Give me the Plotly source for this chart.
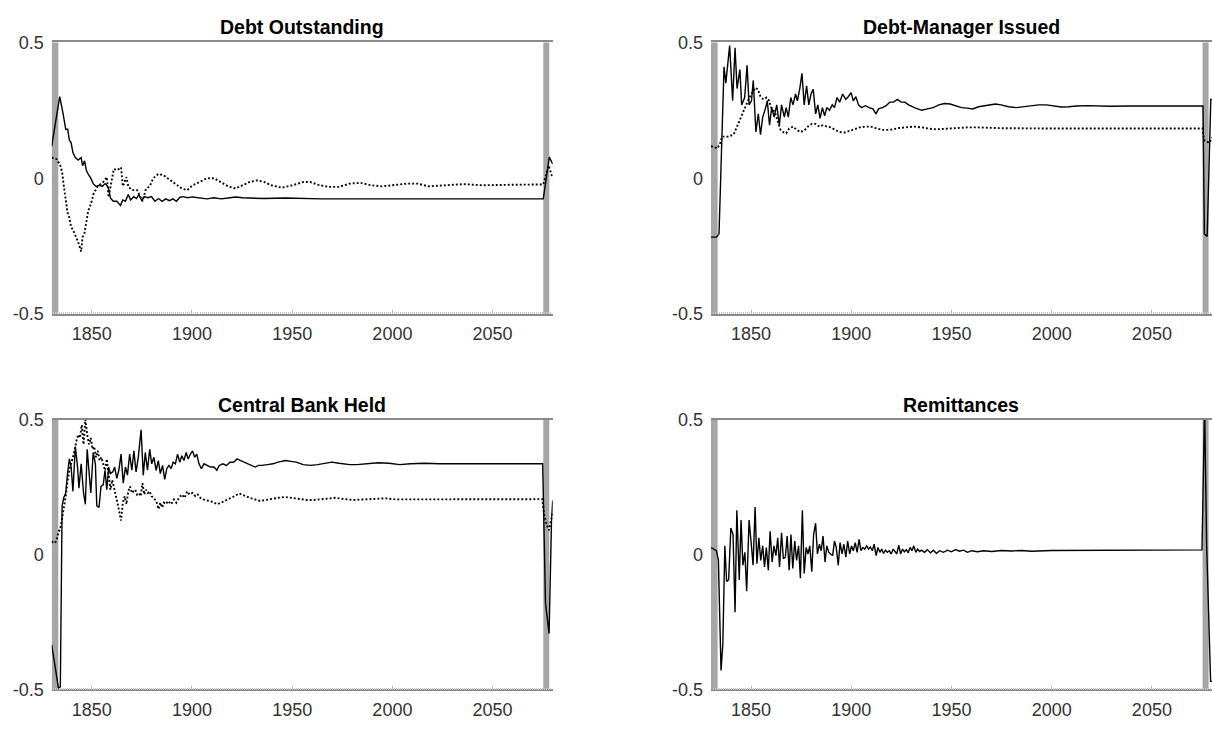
import plotly.graph_objects as go

# ---------------- data ----------------
TITLES = ["Debt Outstanding", "Debt-Manager Issued", "Central Bank Held", "Remittances"]
X_TICKS = [1850, 1900, 1950, 2000, 2050]
Y_TICKS = [-0.5, 0, 0.5]
Y_TICK_TEXT = ["-0.5", "0", "0.5"]
SHADE_SPANS = [(1830.0, 1833.3), (2075.3, 2078.3)]

# Debt Outstanding
do_solid_x = [1830, 1834, 1835.7, 1837, 1838, 1838.8, 1839.7, 1840.6, 1841.8, 1843.2,
              1844.7, 1845.4, 1846.4, 1847.3, 1848.6, 1849.5, 1850.7, 1852, 1854, 1855.3,
              1856.6, 1857.5, 1858.4, 1859.3, 1860.7, 1862.5, 1864.3, 1865.5, 1866.8, 1868.2,
              1869.4, 1870.9, 1872.3, 1873.5, 1875, 1876.2, 1878, 1879.8, 1881.5, 1883.3,
              1885.1, 1886.9, 1888.7, 1890.5, 1892.2, 1894, 1895.8, 1897.6, 1900.3, 1903.8,
              1907.4, 1911, 1914.5, 1918, 1921.7, 1925.2, 1928.8, 1936, 1946.6, 1964.4,
              1982.3, 2000, 2035.7, 2075.3, 2078.3, 2080]
do_solid_y = [0.118, 0.30, 0.237, 0.18, 0.18, 0.14, 0.13, 0.094, 0.076, 0.067,
              0.076, 0.046, 0.064, 0.028, 0.01, 0.0, -0.02, -0.03, -0.026, -0.03,
              -0.02, -0.026, -0.038, -0.073, -0.085, -0.085, -0.10, -0.08, -0.085, -0.06,
              -0.08, -0.068, -0.075, -0.06, -0.083, -0.068, -0.072, -0.068, -0.085, -0.075,
              -0.085, -0.076, -0.083, -0.076, -0.085, -0.07, -0.068, -0.072, -0.069, -0.073,
              -0.076, -0.072, -0.076, -0.073, -0.069, -0.072, -0.073, -0.075, -0.073, -0.076,
              -0.076, -0.076, -0.076, -0.076, 0.078, 0.052]
do_dot_x = [1830, 1832.5, 1834.3, 1835.2, 1836, 1837, 1837.9, 1838.8, 1839.7, 1840.6,
            1841.4, 1842.3, 1843.2, 1844.7, 1845.4, 1846.3, 1847.1, 1848.2, 1849.5, 1851,
            1853, 1855.7, 1857.5, 1858.4, 1861, 1862.8, 1864.6, 1865.5, 1867.3, 1868.2,
            1870, 1872.6, 1875.3, 1877, 1878.9, 1880.7, 1883.3, 1886, 1887.8, 1891.4,
            1894.9, 1897.6, 1900.3, 1903.8, 1907.4, 1911, 1914.5, 1918, 1921.7, 1925,
            1928.8, 1932.4, 1936, 1939.5, 1944.8, 1950.2, 1955.5, 1959, 1962.7, 1968,
            1973.4, 1978.7, 1984, 1989.4, 1994.7, 2000, 2007.2, 2012.6, 2017.9, 2026.8,
            2035.7, 2044.6, 2053.5, 2062.5, 2075.3, 2078, 2080]
do_dot_y = [0.076, 0.07, 0.046, 0.022, -0.026, -0.073, -0.127, -0.145, -0.18, -0.19,
            -0.205, -0.217, -0.235, -0.27, -0.217, -0.205, -0.17, -0.12, -0.097, -0.055,
            -0.03, -0.014, 0.004, -0.07, 0.034, 0.03, 0.04, -0.03, 0.004, -0.03,
            -0.044, -0.044, -0.085, -0.04, -0.03, 0.0, 0.016, 0.01, 0.0, -0.02,
            -0.038, -0.044, -0.026, -0.014, 0.0, 0.0, -0.014, -0.03, -0.038, -0.026,
            -0.014, -0.008, -0.014, -0.026, -0.035, -0.026, -0.014, -0.014, -0.024, -0.032,
            -0.032, -0.02, -0.017, -0.026, -0.03, -0.026, -0.02, -0.02, -0.03, -0.026,
            -0.022, -0.026, -0.026, -0.024, -0.023, 0.046, 0.0]

# Debt-Manager Issued
dm_solid_x = [1830, 1832.7, 1834, 1836.5, 1837.4, 1839.3, 1840.8, 1842, 1843, 1844.4,
              1845.3, 1846.8, 1848, 1849, 1850.2, 1851.1, 1852.4, 1853.6, 1854.7, 1855.8,
              1857.1, 1858.1, 1859.2, 1860.3, 1861.5, 1862.8, 1864.1, 1865.2, 1866.6, 1867.5,
              1868.6, 1869.8, 1870.9, 1872.2, 1873.1, 1874.3, 1875.4, 1876.5, 1877.7, 1878.8,
              1879.9, 1881, 1882.2, 1883.3, 1884.4, 1885.6, 1886.7, 1887.8, 1889.1, 1890.5,
              1891.6, 1892.9, 1894.2, 1895.7, 1897.2, 1898.5, 1899.9, 1901, 1902.3, 1903.6,
              1905.1, 1907, 1908.9, 1910.8, 1912.3, 1913.6, 1915.5, 1917.4, 1919.2, 1921.1,
              1923, 1924.9, 1926.8, 1928.6, 1931.5, 1933.3, 1935.2, 1938, 1940.9, 1943.7,
              1946.5, 1949.3, 1952.2, 1955, 1957.8, 1960.6, 1963.5, 1966.3, 1969.1, 1971.9,
              1974.7, 1978.5, 1982.3, 1986, 1989.8, 1993.6, 1997.3, 2001.1, 2004.8, 2008.6,
              2012.4, 2018, 2023.7, 2029.3, 2038.7, 2048.1, 2057.5, 2066.9, 2075.5, 2076.2,
              2077.6, 2079.4, 2080]
dm_solid_y = [-0.217, -0.217, -0.205, 0.41, 0.35, 0.488, 0.285, 0.48, 0.33, 0.40,
              0.27, 0.297, 0.416, 0.27, 0.285, 0.36, 0.17, 0.237, 0.16, 0.225,
              0.255, 0.285, 0.195, 0.26, 0.225, 0.27, 0.195, 0.27, 0.225, 0.26,
              0.225, 0.297, 0.27, 0.31, 0.285, 0.33, 0.386, 0.27, 0.34, 0.27,
              0.31, 0.327, 0.237, 0.27, 0.22, 0.26, 0.23, 0.26, 0.25, 0.27,
              0.26, 0.297, 0.28, 0.31, 0.29, 0.30, 0.315, 0.285, 0.30, 0.27,
              0.26, 0.267, 0.26, 0.255, 0.237, 0.255, 0.26, 0.267, 0.28, 0.28,
              0.29, 0.28, 0.28, 0.27, 0.26, 0.255, 0.25, 0.255, 0.26, 0.27,
              0.275, 0.273, 0.267, 0.26, 0.258, 0.255, 0.263, 0.267, 0.27, 0.273,
              0.27, 0.263, 0.26, 0.263, 0.267, 0.27, 0.27, 0.265, 0.262, 0.263,
              0.266, 0.267, 0.265, 0.265, 0.266, 0.266, 0.266, 0.266, 0.266, -0.205,
              -0.215, 0.29, 0.29]
dm_dot_x = [1830, 1833.3, 1834.6, 1835.5, 1838.3, 1841.2, 1843, 1844.9, 1846.8, 1848.7,
            1850.6, 1852.1, 1853.4, 1854.7, 1856.2, 1857.7, 1859, 1860, 1861.9, 1863.4,
            1864.7, 1866, 1867.5, 1869, 1870.9, 1872.8, 1874.6, 1876.5, 1878.4, 1880.3,
            1882.2, 1884.1, 1885.9, 1887.8, 1889.7, 1892, 1894.2, 1896.7, 1899.1, 1901.4,
            1904.2, 1907, 1909.8, 1912.7, 1915.5, 1918.3, 1921.1, 1923.9, 1927.7, 1931.5,
            1935.2, 1938.9, 1942.8, 1946.5, 1950.3, 1954, 1957.8, 1963.5, 1975, 2000,
            2040, 2075.3, 2076, 2077.4, 2078.7, 2080]
dm_dot_y = [0.118, 0.11, 0.13, 0.153, 0.153, 0.16, 0.19, 0.225, 0.26, 0.29,
            0.315, 0.333, 0.327, 0.30, 0.29, 0.297, 0.285, 0.26, 0.243, 0.207,
            0.178, 0.17, 0.165, 0.183, 0.19, 0.178, 0.17, 0.175, 0.19, 0.20,
            0.20, 0.19, 0.195, 0.19, 0.187, 0.178, 0.17, 0.168, 0.175, 0.18,
            0.187, 0.19, 0.19, 0.183, 0.178, 0.178, 0.18, 0.185, 0.188, 0.19,
            0.187, 0.182, 0.18, 0.182, 0.185, 0.186, 0.187, 0.187, 0.184, 0.183,
            0.183, 0.183, 0.14, 0.135, 0.13, 0.15]

# Central Bank Held
cb_solid_x = [1830, 1833.4, 1834.3, 1835.2, 1836, 1837, 1837.9, 1838.8, 1839.7, 1840.6,
              1841.8, 1842.9, 1843.6, 1844.7, 1845.9, 1846.8, 1847.7, 1848.6, 1849.5, 1850.7,
              1851.8, 1852.5, 1853.6, 1854.6, 1855.7, 1856.6, 1857.5, 1858.4, 1859.3, 1860.5,
              1861.4, 1862.5, 1863.5, 1864.6, 1865.7, 1866.8, 1867.8, 1868.9, 1870, 1871,
              1872.1, 1873.2, 1874.6, 1875.7, 1876.7, 1877.8, 1878.9, 1879.9, 1881, 1882.1,
              1883.2, 1884.2, 1885.3, 1886.4, 1887.4, 1888.5, 1889.6, 1890.6, 1891.7, 1892.8,
              1893.9, 1894.9, 1896, 1897.1, 1898.1, 1899.2, 1900.3, 1901.3, 1902.4, 1903.5,
              1904.7, 1906, 1907.4, 1909.2, 1911, 1912.4, 1913.6, 1915.4, 1917.2, 1919,
              1920.8, 1922.5, 1924.3, 1926.1, 1927.9, 1929.7, 1931.5, 1933.2, 1935, 1937.7,
              1940.4, 1943, 1946.6, 1949.3, 1952, 1955.5, 1959.1, 1962.7, 1966.2, 1969.8,
              1973.4, 1978.7, 1982.3, 1987.6, 1993, 1998.3, 2003.7, 2009, 2016.1, 2023.3,
              2034, 2044.7, 2057.1, 2075, 2076.4, 2078.2, 2079.4, 2080]
cb_solid_y = [-0.335, -0.496, -0.49, 0.18, 0.21, 0.228, 0.30, 0.354, 0.324, 0.234,
              0.40, 0.324, 0.246, 0.336, 0.228, 0.186, 0.39, 0.30, 0.228, 0.378,
              0.336, 0.18, 0.174, 0.252, 0.258, 0.312, 0.24, 0.324, 0.30, 0.306,
              0.324, 0.282, 0.312, 0.372, 0.264, 0.324, 0.294, 0.372, 0.312, 0.384,
              0.306, 0.36, 0.462, 0.294, 0.378, 0.312, 0.39, 0.336, 0.36, 0.312,
              0.348, 0.30, 0.33, 0.278, 0.318, 0.33, 0.318, 0.342, 0.336, 0.372,
              0.342, 0.366, 0.348, 0.378, 0.354, 0.372, 0.384, 0.36, 0.372, 0.336,
              0.318, 0.336, 0.33, 0.324, 0.324, 0.312, 0.33, 0.336, 0.33, 0.342,
              0.342, 0.354, 0.348, 0.342, 0.338, 0.33, 0.324, 0.33, 0.33, 0.333,
              0.336, 0.342, 0.348, 0.345, 0.342, 0.333, 0.33, 0.333, 0.338, 0.342,
              0.338, 0.333, 0.333, 0.336, 0.34, 0.338, 0.333, 0.336, 0.338, 0.336,
              0.335, 0.336, 0.336, 0.336, -0.18, -0.293, 0.12, 0.2]
cb_dot_x = [1830, 1831.6, 1832.5, 1833.4, 1834.3, 1835.2, 1836, 1837, 1837.9, 1838.8,
            1839.7, 1840.6, 1841.4, 1842.3, 1843.2, 1844.1, 1845, 1845.9, 1846.8, 1847.7,
            1848.6, 1849.5, 1850.4, 1851.2, 1852.1, 1853, 1853.9, 1854.8, 1855.7, 1856.6,
            1857.5, 1858.4, 1859.3, 1860.2, 1861.4, 1862.8, 1864.6, 1865.5, 1866.4, 1867.3,
            1868.2, 1869.1, 1870, 1870.9, 1871.7, 1872.6, 1873.5, 1874.4, 1875.3, 1876.2,
            1877.1, 1878, 1878.9, 1879.8, 1881, 1882.4, 1883.3, 1884.2, 1885.1, 1886,
            1886.9, 1888.1, 1889.6, 1891, 1892.2, 1893.5, 1894.9, 1896.3, 1897.6, 1898.8,
            1900.3, 1901.7, 1902.9, 1904.2, 1905.6, 1907.4, 1909.2, 1911, 1912.7, 1914.5,
            1916.3, 1918.1, 1919.9, 1921.7, 1923.4, 1925.2, 1927, 1928.8, 1931.5, 1934.1,
            1936.8, 1939.5, 1943, 1946.6, 1950.2, 1953.7, 1957.3, 1960.9, 1964.4, 1968,
            1971.6, 1975.1, 1980.5, 1985.8, 1991.2, 1996.5, 2001.9, 2009, 2017.9, 2028.6,
            2041.1, 2057.1, 2074.8, 2075.8, 2077.1, 2078.2, 2079.4, 2080]
cb_dot_y = [0.048, 0.042, 0.054, 0.084, 0.096, 0.132, 0.168, 0.216, 0.27, 0.312,
            0.336, 0.36, 0.384, 0.42, 0.444, 0.432, 0.48, 0.408, 0.5, 0.444,
            0.408, 0.432, 0.39, 0.40, 0.36, 0.384, 0.348, 0.36, 0.336, 0.312,
            0.354, 0.30, 0.24, 0.276, 0.24, 0.192, 0.126, 0.192, 0.216, 0.186,
            0.234, 0.252, 0.228, 0.234, 0.24, 0.222, 0.228, 0.216, 0.264, 0.222,
            0.24, 0.228, 0.234, 0.216, 0.21, 0.192, 0.168, 0.192, 0.174, 0.192,
            0.186, 0.198, 0.186, 0.204, 0.192, 0.21, 0.222, 0.21, 0.234, 0.222,
            0.228, 0.216, 0.222, 0.21, 0.204, 0.2, 0.198, 0.192, 0.186, 0.192,
            0.198, 0.204, 0.21, 0.218, 0.226, 0.222, 0.216, 0.21, 0.204, 0.198,
            0.202, 0.206, 0.21, 0.213, 0.21, 0.206, 0.202, 0.202, 0.204, 0.206,
            0.21, 0.206, 0.202, 0.204, 0.206, 0.208, 0.204, 0.204, 0.206, 0.205,
            0.205, 0.205, 0.205, 0.144, 0.108, 0.09, 0.144, 0.156]

# Remittances
rem_x = [1830, 1831.2, 1832.7, 1833.7, 1835, 1835.9, 1836.9, 1837.8, 1838.8, 1839.9,
         1841, 1842, 1842.9, 1844.1, 1845, 1845.9, 1846.9, 1847.8, 1849, 1850.1,
         1851, 1852, 1852.9, 1853.9, 1854.8, 1855.8, 1856.7, 1857.6, 1858.6, 1859.5,
         1860.5, 1861.4, 1862.4, 1863.3, 1864.2, 1865.2, 1866.1, 1867.1, 1868, 1869,
         1869.9, 1870.8, 1871.8, 1872.7, 1873.7, 1874.6, 1875.6, 1876.5, 1877.5, 1878.4,
         1879.3, 1880.3, 1881.2, 1882.2, 1883.1, 1884.1, 1885, 1885.9, 1886.9, 1887.8,
         1888.8, 1889.7, 1890.7, 1891.6, 1892.5, 1893.5, 1894.4, 1895.4, 1896.3, 1897.3,
         1898.2, 1899.2, 1900.1, 1901, 1902, 1902.9, 1903.9, 1904.8, 1905.8, 1906.7,
         1907.7, 1908.6, 1909.5, 1910.5, 1911.4, 1912.4, 1913.3, 1914.3, 1915.2, 1916.1,
         1917.1, 1918, 1919, 1919.9, 1920.9, 1921.8, 1922.7, 1923.7, 1924.6, 1925.6,
         1926.5, 1927.5, 1928.4, 1929.3, 1930.3, 1931.2, 1932.2, 1933.1, 1934.1, 1935,
         1936.5, 1938, 1939.5, 1941, 1942.5, 1944, 1946, 1948, 1950, 1952,
         1954, 1956, 1958, 1960, 1963, 1966, 1970, 1975, 1980, 1985,
         1990, 2000, 2020, 2050, 2075, 2076.3, 2077.3, 2079.3, 2080]
rem_y = [0.026, 0.02, 0.014, -0.022, -0.43, -0.334, 0.032, -0.10, -0.094, 0.098,
         0.074, -0.214, 0.164, -0.094, 0.128, -0.04, 0.008, -0.136, 0.128, 0.038,
         -0.04, 0.176, -0.034, 0.062, -0.022, 0.032, -0.046, 0.026, -0.058, 0.086,
         -0.028, 0.032, -0.004, 0.062, -0.046, 0.08, -0.016, -0.01, 0.068, -0.058,
         0.074, -0.052, 0.05, -0.022, 0.032, -0.088, 0.164, -0.07, 0.026, 0.002,
         0.032, -0.064, 0.074, 0.116, 0.002, 0.038, 0.014, 0.068, -0.028, 0.032,
         0.008, 0.002, -0.004, 0.05, 0.026, -0.04, 0.044, 0.002, 0.038, -0.01,
         0.05, 0.002, 0.032, 0.014, 0.044, 0.008, 0.056, 0.014, 0.026, 0.02,
         0.032, 0.02, 0.028, 0.014, 0.038, -0.004, 0.026, 0.008, 0.02, 0.004,
         0.016, 0.008, 0.014, 0.002, 0.02, 0.011, 0.002, 0.035, 0.002, 0.02,
         0.01, 0.018, 0.006, 0.026, 0.014, 0.032, 0.008, 0.02, 0.011, 0.016,
         0.008, 0.018, 0.006, 0.016, 0.004, 0.014, 0.008, 0.016, 0.01, 0.018,
         0.012, 0.016, 0.008, 0.014, 0.01, 0.014, 0.011, 0.015, 0.013, 0.015,
         0.012, 0.015, 0.015, 0.016, 0.017, 0.55, 0.041, -0.47, -0.47]

PANELS = [
    [(do_solid_x, do_solid_y, "solid"), (do_dot_x, do_dot_y, "dot")],
    [(dm_solid_x, dm_solid_y, "solid"), (dm_dot_x, dm_dot_y, "dot")],
    [(cb_solid_x, cb_solid_y, "solid"), (cb_dot_x, cb_dot_y, "dot")],
    [(rem_x, rem_y, "solid")],
]

# ---------------- layout geometry ----------------
W, H = 1212, 734
COL_X = [(51.7 / W, 552.7 / W), (711.0 / W, 1.0)]
ROW_Y = [(1 - 312.5 / H, 1 - 33.3 / H), (1 - 698.5 / H, 1 - 421.0 / H)]

FONT = "Liberation Sans, Arial, Helvetica, sans-serif"
AXIS_GRAY = "#8a8a8a"
TICK_GRAY = "#b5b5b5"
LABEL_COLOR = "#333333"
SHADE = "#a6a6a6"

LINE_STYLES = {
    "solid": dict(color="black", width=1.4),
    "dot": dict(color="black", width=1.9, dash="1.9px,2.1px"),
}

fig = go.Figure()
annotations = []
shapes = []

for i, series in enumerate(PANELS):
    r, c = divmod(i, 2)
    n = "" if i == 0 else str(i + 1)
    xa, ya = "x" + n, "y" + n
    for xs, ys, style in series:
        fig.add_trace(go.Scatter(
            x=xs, y=ys, mode="lines", xaxis=xa, yaxis=ya,
            line=LINE_STYLES[style], showlegend=False, hoverinfo="skip",
        ))

    xdom, ydom = COL_X[c], ROW_Y[r]
    fig.layout["xaxis" + n] = dict(
        domain=list(xdom), anchor=ya, range=[1830, 2080],
        tickmode="array", tickvals=X_TICKS,
        ticks="inside", ticklen=4, tickcolor=TICK_GRAY, tickwidth=1,
        minor=dict(ticks="inside", ticklen=2, dtick=1, tick0=1830,
                   tickcolor="#c8c8c8", tickwidth=1, showgrid=False),
        showline=True, mirror=True, linecolor=AXIS_GRAY, linewidth=1.5,
        showgrid=False, zeroline=False, ticklabelstandoff=3,
        tickfont=dict(family=FONT, size=18, color=LABEL_COLOR),
    )
    fig.layout["yaxis" + n] = dict(
        domain=list(ydom), anchor=xa, range=[-0.5, 0.5],
        tickmode="array", tickvals=Y_TICKS, ticktext=Y_TICK_TEXT,
        ticks="", showline=False, showgrid=False, zeroline=False,
        ticklabelstandoff=7,
        tickfont=dict(family=FONT, size=18, color=LABEL_COLOR),
    )

    for x0, x1 in SHADE_SPANS:
        shapes.append(dict(
            type="rect", xref=xa, yref=ya + " domain", x0=x0, x1=x1, y0=0, y1=1,
            fillcolor=SHADE, line=dict(width=0), layer="below",
        ))

    annotations.append(dict(
        text="<b>" + TITLES[i] + "</b>", xref="paper", yref="paper",
        x=(xdom[0] + xdom[1]) / 2, y=ydom[1], xanchor="center", yanchor="bottom",
        yshift=2, showarrow=False,
        font=dict(family=FONT, size=19.5, color="black"),
    ))

fig.update_layout(
    width=W, height=H, margin=dict(l=0, r=0, t=0, b=0),
    paper_bgcolor="white", plot_bgcolor="white",
    shapes=shapes, annotations=annotations,
)

fig.write_html("out.html", config={"displayModeBar": False})
